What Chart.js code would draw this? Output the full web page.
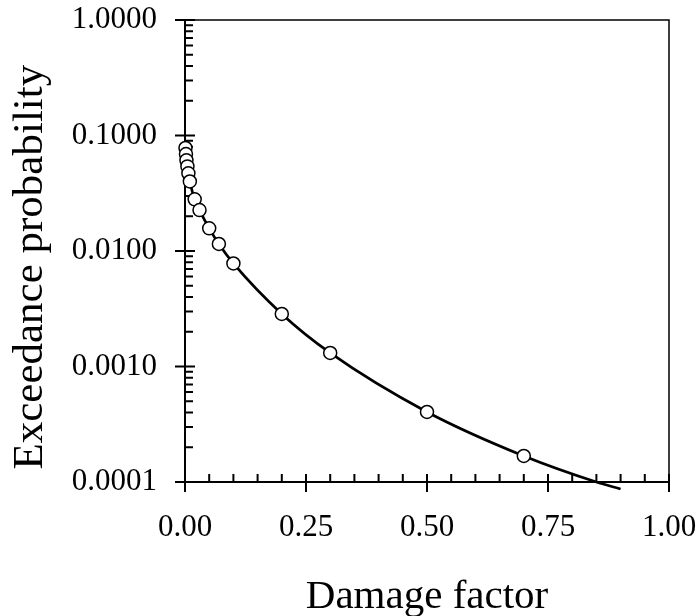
<!DOCTYPE html>
<html>
<head>
<meta charset="utf-8">
<script src="https://cdn.jsdelivr.net/npm/chart.js@4"></script>
<style>
  html, body { margin: 0; padding: 0; background: #fff; }
  #wrap { width: 700px; height: 616px; }
</style>
</head>
<body>
<div id="wrap"><canvas id="c" width="700" height="616"></canvas></div>
<script>
"use strict";
// observed points (damage factor vs exceedance probability)
const damage = [0.001, 0.002, 0.003, 0.005, 0.007, 0.01, 0.02, 0.03, 0.05, 0.07, 0.1, 0.2, 0.3, 0.5, 0.7];
const exceed = [0.078, 0.069, 0.061, 0.054, 0.047, 0.040, 0.028, 0.0226, 0.0157, 0.0115, 0.0078, 0.00285, 0.00131, 0.000404, 0.000168];
// fitted curve (runs a little past the bottom axis)
const curveX = [0.001, 0.002, 0.003, 0.005, 0.007, 0.01, 0.02, 0.03, 0.05, 0.07, 0.1, 0.2, 0.3, 0.5, 0.7, 0.85, 0.9];
const curveY = [0.078, 0.069, 0.061, 0.054, 0.047, 0.040, 0.028, 0.0226, 0.0157, 0.0115, 0.0078, 0.00285, 0.00131, 0.000404, 0.000168, 0.0001, 0.000087];
const yTicks = [0.0001, 0.001, 0.01, 0.1, 1];
const xTicks = [0, 0.25, 0.5, 0.75, 1];

const FONT = "'Liberation Serif', 'Times New Roman', serif";
const pts = (xs, ys) => xs.map((x, i) => ({ x, y: ys[i] }));

/* frame on top/right + in/out tick marks like the original plot */
const tickMarks = {
  id: "tickMarks",
  beforeDatasetsDraw(chart) {
    const { ctx, chartArea: a, scales: { x, y } } = chart;
    ctx.save();
    ctx.strokeStyle = "#000";
    ctx.lineWidth = 1.5;
    ctx.beginPath();
    ctx.moveTo(a.left, a.top); ctx.lineTo(a.right, a.top); ctx.lineTo(a.right, a.bottom);
    ctx.stroke();

    ctx.lineWidth = 2;
    ctx.beginPath();
    // x: majors cross the axis, minors point inward
    for (let k = 0; k <= 20; k++) {
      const px = x.getPixelForValue(k * 0.05);
      if (k % 5 === 0) { ctx.moveTo(px, a.bottom - 8); ctx.lineTo(px, a.bottom + 10); }
      else { ctx.moveTo(px, a.bottom); ctx.lineTo(px, a.bottom - 8); }
    }
    // y: decades cross the axis, 2..9 point inward
    for (let d = 0; d < yTicks.length; d++) {
      const py = y.getPixelForValue(yTicks[d]);
      ctx.moveTo(a.left - 10, py); ctx.lineTo(a.left + 10, py);
      if (d === yTicks.length - 1) break;
      for (let m = 2; m <= 9; m++) {
        const pm = y.getPixelForValue(yTicks[d] * m);
        ctx.moveTo(a.left, pm); ctx.lineTo(a.left + 8, pm);
      }
    }
    ctx.stroke();
    ctx.restore();
  }
};

new Chart(document.getElementById("c"), {
  type: "scatter",
  data: {
    datasets: [
      { label: "observed", data: pts(damage, exceed), order: 0, clip: false,
        pointRadius: 6.5, pointBackgroundColor: "#fff", pointBorderColor: "#000",
        pointBorderWidth: 1.5, showLine: false },
      { label: "fit", data: pts(curveX, curveY), order: 1, showLine: true,
        borderColor: "#000", borderWidth: 2.7, pointRadius: 0,
        cubicInterpolationMode: "monotone",
        clip: { left: 0, top: 0, right: 0, bottom: 8 } },
    ],
  },
  options: {
    responsive: false, animation: false,
    layout: { padding: { top: 20, right: 31, left: 0, bottom: 0 } },
    plugins: { legend: { display: false }, tooltip: { enabled: false } },
    scales: {
      x: {
        type: "linear", min: 0, max: 1,
        afterBuildTicks: (s) => { s.ticks = xTicks.map((v) => ({ value: v })); },
        afterFit: (s) => { s.height = 134; s.paddingLeft = 0; s.paddingRight = 0; },
        grid: { display: false, drawTicks: false },
        border: { color: "#000", width: 2 },
        ticks: { color: "#000", padding: 27, font: { family: FONT, size: 31 },
          maxRotation: 0, callback: (v) => v.toFixed(2) },
        title: { display: true, text: "Damage factor", color: "#000",
          font: { family: FONT, size: 41 }, padding: { bottom: -6 } },
      },
      y: {
        type: "logarithmic", min: 0.0001, max: 1,
        afterBuildTicks: (s) => { s.ticks = yTicks.map((v) => ({ value: v })); },
        afterFit: (s) => { s.width = 185; s.paddingTop = 0; s.paddingBottom = 0; },
        grid: { display: false, drawTicks: false },
        border: { color: "#000", width: 2 },
        ticks: { color: "#000", padding: 28, font: { family: FONT, size: 31 },
          callback: (v) => Number(v).toFixed(4) },
        // trailing spaces nudge the rotated title a bit lower, as in the original
        title: { display: true, text: "Exceedance probability\u00a0\u00a0\u00a0", color: "#000",
          font: { family: FONT, size: 43 }, padding: { top: 5 } },
      },
    },
  },
  plugins: [tickMarks],
});
</script>
</body>
</html>
